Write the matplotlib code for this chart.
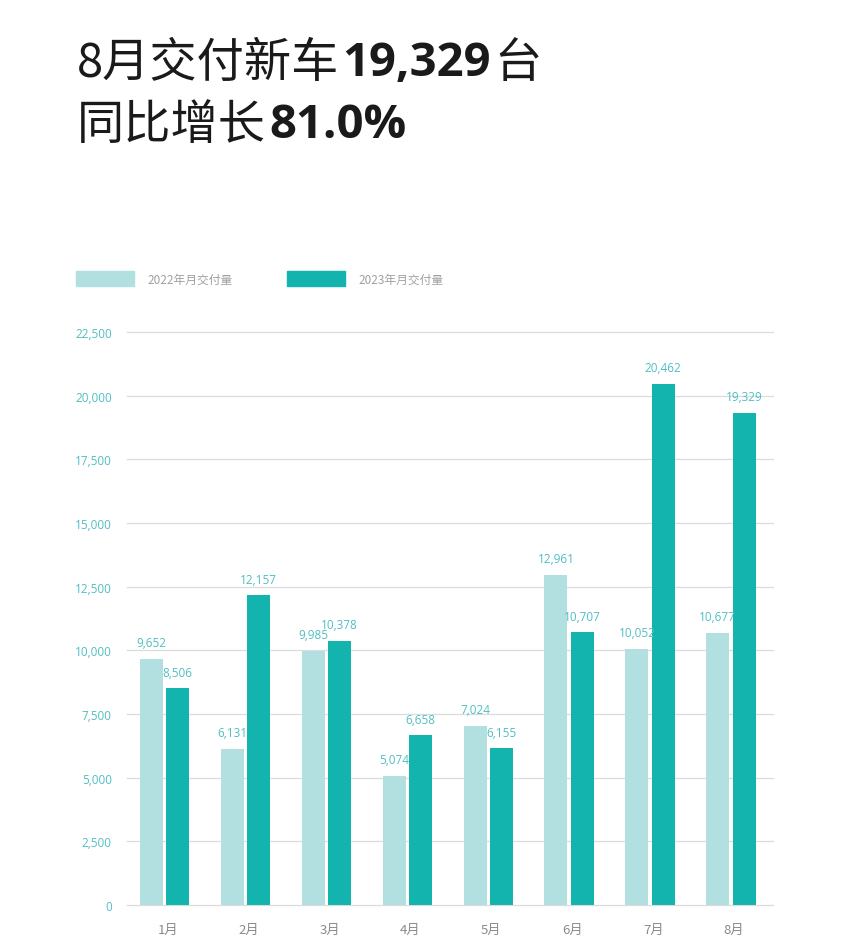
import matplotlib
matplotlib.use('Agg')
import matplotlib.pyplot as plt
from matplotlib.patches import Rectangle
import numpy as np

plt.rcParams['font.family'] = ['Noto Sans CJK SC', 'DejaVu Sans']

months = ['1月', '2月', '3月', '4月', '5月', '6月', '7月', '8月']
sales_2022 = [9652, 6131, 9985, 5074, 7024, 12961, 10052, 10677]
sales_2023 = [8506, 12157, 10378, 6658, 6155, 10707, 20462, 19329]
legend_labels = ['2022年月交付量', '2023年月交付量']
yticks = [0, 2500, 5000, 7500, 10000, 12500, 15000, 17500, 20000, 22500]

c_light = '#b2e0e1'
c_dark = '#13b3ae'
c_label = '#4fbfc2'
c_grid = '#dcdcdc'
num_font = ['Open Sans', 'Noto Sans CJK SC']

fig = plt.figure(figsize=(8.52, 9.45), dpi=100)
renderer = fig.canvas.get_renderer()

# title: regular CJK + bold numbers, drawn piece by piece
def title_line(pieces, x, y):
    for txt, weight in pieces:
        fam = num_font if weight == 'bold' else ['Noto Sans CJK SC', 'Open Sans']
        t = fig.text(x, y, txt, fontsize=34, fontweight=weight, color='#1a1a1a',
                     va='center', ha='left', family=fam, transform=None)
        bb = t.get_window_extent(renderer)
        x = bb.x1 + 3

title_line([('8月交付新车', 'normal'), ('19,329', 'bold'), ('台', 'normal')], 77, 945 - 64)
title_line([('同比增长', 'normal'), ('81.0%', 'bold')], 77, 945 - 126)

# legend
for i, (lab, col) in enumerate(zip(legend_labels, [c_light, c_dark])):
    x0 = 76 + i * 211
    fig.patches.append(Rectangle((x0, 945 - 287), 58, 15, color=col, transform=None))
    fig.text(x0 + 71, 945 - 280, lab, fontsize=8.5, color='#a0a0a0', va='center',
             ha='left', transform=None)

ax = fig.add_axes([127 / 852, 1 - 906 / 945, 646 / 852, 573 / 945])
x = np.arange(len(months))
w = 0.285
gap = 0.02
b1 = ax.bar(x - w / 2 - gap, sales_2022, w, color=c_light, zorder=2)
b2 = ax.bar(x + w / 2 + gap, sales_2023, w, color=c_dark, zorder=2)

for bars in (b1, b2):
    for r in bars:
        ax.annotate(f'{int(r.get_height()):,}', (r.get_x() + r.get_width() / 2, r.get_height()),
                    xytext=(0, 7), textcoords='offset points', ha='center', va='bottom',
                    fontsize=8.5, color=c_label, family=num_font)

ax.set_xlim(-0.464, 7.52)
ax.set_ylim(0, 22500)
ax.set_yticks(yticks)
ax.set_yticklabels([f'{v:,}' for v in yticks], family=num_font)
ax.set_xticks(x + 0.04)
ax.set_xticklabels(months)
ax.grid(axis='y', color=c_grid, linewidth=0.9, zorder=0, clip_on=False)
ax.set_axisbelow(True)
for s in ax.spines.values():
    s.set_visible(False)
ax.tick_params(axis='y', length=0, pad=11, labelsize=8.5, labelcolor=c_label)
ax.tick_params(axis='x', length=0, pad=13, labelsize=9.5, labelcolor='#8a8a8a')

fig.savefig('out.png', dpi=100, facecolor='white')
